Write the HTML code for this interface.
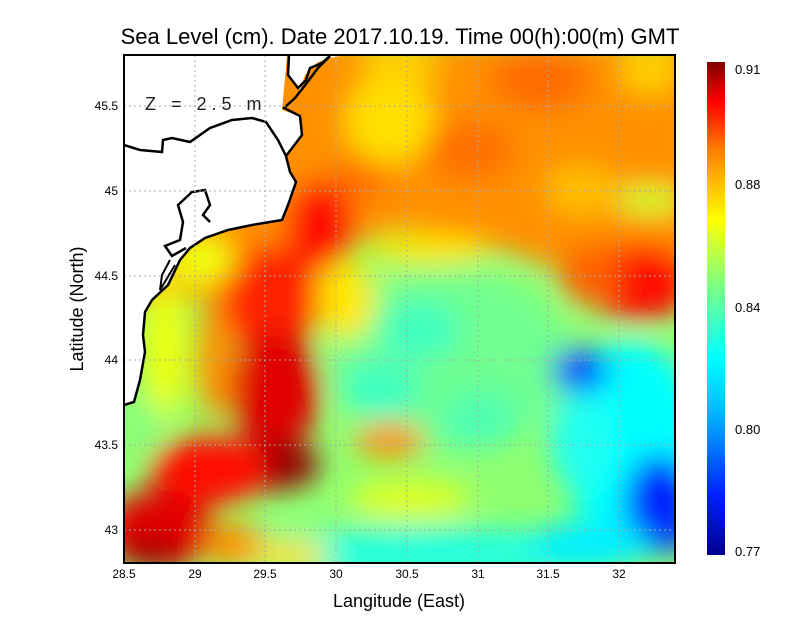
<!DOCTYPE html>
<html><head><meta charset="utf-8"><style>
body{margin:0;background:#fff;}
svg{display:block;font-family:"Liberation Sans",sans-serif;}
</style></head><body>
<svg width="800" height="618" viewBox="0 0 800 618" xmlns="http://www.w3.org/2000/svg">
<defs>
<clipPath id="pc"><rect x="124" y="55" width="551" height="508"/></clipPath>
<filter id="bl" x="-20%" y="-20%" width="140%" height="140%"><feGaussianBlur stdDeviation="14"/></filter>
<linearGradient id="cb" x1="0" y1="1" x2="0" y2="0">
<stop offset="0" stop-color="#00008f"/><stop offset="0.12" stop-color="#0020ff"/>
<stop offset="0.3" stop-color="#00c0ff"/><stop offset="0.4" stop-color="#00ffff"/>
<stop offset="0.55" stop-color="#80ff80"/><stop offset="0.68" stop-color="#ffff00"/>
<stop offset="0.82" stop-color="#ff8000"/><stop offset="0.92" stop-color="#ff0000"/>
<stop offset="1" stop-color="#800000"/></linearGradient>
</defs>
<text x="400" y="44" font-size="22" text-anchor="middle">Sea Level (cm). Date 2017.10.19. Time 00(h):00(m) GMT</text>
<g clip-path="url(#pc)">
<rect x="100" y="40" width="600" height="540" fill="#90ff70"/>
<g filter="url(#bl)">
<path d="M100,40 L700,40 L700,300 L640,310 L560,270 L470,240 L400,230 L330,250 L300,300 L100,300 Z" fill="#ff9000"/>
<ellipse cx="390" cy="120" rx="45" ry="45" fill="#ffe000"/>
<ellipse cx="400" cy="65" rx="40" ry="20" fill="#ffd000"/>
<ellipse cx="540" cy="80" rx="50" ry="30" fill="#ff6a00"/>
<ellipse cx="470" cy="150" rx="45" ry="30" fill="#ff7000"/>
<ellipse cx="360" cy="180" rx="30" ry="20" fill="#ff7000"/>
<ellipse cx="580" cy="190" rx="35" ry="25" fill="#ffc000"/>
<ellipse cx="650" cy="70" rx="30" ry="25" fill="#ffd000"/>
<ellipse cx="650" cy="200" rx="35" ry="15" fill="#d0ff30"/>
<ellipse cx="640" cy="282" rx="55" ry="38" fill="#ff1000"/>
<ellipse cx="590" cy="275" rx="30" ry="30" fill="#ff6000"/>
<ellipse cx="450" cy="360" rx="120" ry="90" fill="#70ff90"/>
<ellipse cx="420" cy="330" rx="40" ry="30" fill="#40ffc0"/>
<ellipse cx="380" cy="390" rx="40" ry="30" fill="#40ffc0"/>
<ellipse cx="480" cy="420" rx="40" ry="30" fill="#50ffb0"/>
<ellipse cx="630" cy="440" rx="70" ry="100" fill="#00ffff"/>
<ellipse cx="580" cy="440" rx="30" ry="50" fill="#20fff0"/>
<ellipse cx="580" cy="370" rx="28" ry="22" fill="#0040ff"/>
<ellipse cx="660" cy="505" rx="35" ry="50" fill="#0020ff"/>
<ellipse cx="430" cy="553" rx="200" ry="25" fill="#20ffe0"/>
<ellipse cx="590" cy="545" rx="60" ry="25" fill="#00f0ff"/>
<ellipse cx="410" cy="500" rx="60" ry="20" fill="#e0ff20"/>
<ellipse cx="390" cy="440" rx="35" ry="18" fill="#ff9000"/>
<ellipse cx="345" cy="300" rx="30" ry="40" fill="#ffe800"/>
<ellipse cx="430" cy="250" rx="60" ry="15" fill="#ffe800"/>
<ellipse cx="320" cy="225" rx="35" ry="45" fill="#ff1000"/>
<ellipse cx="270" cy="300" rx="50" ry="55" fill="#ff2000"/>
<ellipse cx="275" cy="390" rx="45" ry="60" fill="#e00000"/>
<ellipse cx="275" cy="465" rx="45" ry="25" fill="#900000"/>
<ellipse cx="210" cy="470" rx="60" ry="35" fill="#ff1000"/>
<ellipse cx="160" cy="530" rx="55" ry="40" fill="#e00000"/>
<ellipse cx="150" cy="555" rx="30" ry="15" fill="#a00000"/>
<ellipse cx="235" cy="545" rx="30" ry="22" fill="#ff9000"/>
<ellipse cx="215" cy="360" rx="18" ry="60" fill="#ff9000"/>
<ellipse cx="165" cy="350" rx="22" ry="70" fill="#f0ff10"/>
<ellipse cx="145" cy="425" rx="15" ry="25" fill="#80ff80"/>
<ellipse cx="200" cy="260" rx="35" ry="25" fill="#f0ff10"/>
<ellipse cx="290" cy="555" rx="40" ry="15" fill="#ffe000"/>
</g>
<path d="M124,55 L287,55 L285,78 L282,110 L300,116 L302,135 L286,156 L290,172 L296,182 L288,205 L282,220 L252,225 L228,230 L205,238 L190,248 L180,260 L168,285 L152,300 L145,312 L143,335 L145,352 L140,380 L134,402 L124,405 Z" fill="#fff"/>
<path d="M289,55 L288,75 L300,90 L305,75 L318,62 L330,58 L345,55 L320,55 Z" fill="#fff"/>
<path d="M289,55 L288,75 L298,88 L306,80 L310,68 L322,63 L330,56" fill="none" stroke="#000" stroke-width="2.5"/>
<path d="M330,56 L318,68 L306,84 L295,98 L284,108 L300,116 L302,135 L286,156 L290,172 L296,182 L288,205 L282,220 L252,225 L228,230 L205,238 L190,248 L180,260 L168,285 L152,300 L145,312 L143,335 L145,352 L140,380 L134,402 L124,405" fill="none" stroke="#000" stroke-width="2.5"/>
<path d="M124,145 L140,150 L162,152 L163,140 L172,138 L190,142 L210,128 L232,120 L252,118 L266,122 L278,140 L286,156" fill="none" stroke="#000" stroke-width="2.5"/>
<path d="M186,248 L172,256 L165,246 L180,240 L183,222 L178,205 L192,192 L205,190 L210,205 L203,215 L210,222" fill="none" stroke="#000" stroke-width="2.5"/>
<path d="M170,260 L162,275 L160,290 L175,265" fill="none" stroke="#000" stroke-width="2"/>
<g stroke="#aaa" stroke-width="1" stroke-dasharray="2,3">
<line x1="195" y1="55" x2="195" y2="563"/><line x1="265" y1="55" x2="265" y2="563"/>
<line x1="336" y1="55" x2="336" y2="563"/><line x1="407" y1="55" x2="407" y2="563"/>
<line x1="478" y1="55" x2="478" y2="563"/><line x1="548" y1="55" x2="548" y2="563"/>
<line x1="619" y1="55" x2="619" y2="563"/>
<line x1="124" y1="106" x2="675" y2="106"/><line x1="124" y1="191" x2="675" y2="191"/>
<line x1="124" y1="276" x2="675" y2="276"/><line x1="124" y1="360" x2="675" y2="360"/>
<line x1="124" y1="445" x2="675" y2="445"/><line x1="124" y1="530" x2="675" y2="530"/>
</g>
<text x="145" y="110" font-size="18" fill="#222" letter-spacing="5">Z = 2.5 m</text>
</g>
<rect x="124" y="55" width="551" height="508" fill="none" stroke="#000" stroke-width="2"/>
<g font-size="12" text-anchor="middle">
<text x="124" y="578">28.5</text><text x="195" y="578">29</text><text x="265" y="578">29.5</text>
<text x="336" y="578">30</text><text x="407" y="578">30.5</text><text x="478" y="578">31</text>
<text x="548" y="578">31.5</text><text x="619" y="578">32</text>
</g>
<g font-size="12" text-anchor="end">
<text x="118" y="110">45.5</text><text x="118" y="195">45</text><text x="118" y="280">44.5</text>
<text x="118" y="364">44</text><text x="118" y="449">43.5</text><text x="118" y="534">43</text>
</g>
<text x="399" y="607" font-size="18" text-anchor="middle">Langitude (East)</text>
<text transform="translate(83,309) rotate(-90)" font-size="18" text-anchor="middle">Latitude (North)</text>
<rect x="707" y="62" width="18" height="493" fill="url(#cb)"/>
<g font-size="13">
<text x="735" y="74">0.91</text><text x="735" y="189">0.88</text><text x="735" y="312">0.84</text>
<text x="735" y="434">0.80</text><text x="735" y="556">0.77</text>
</g>
</svg>
</body></html>
